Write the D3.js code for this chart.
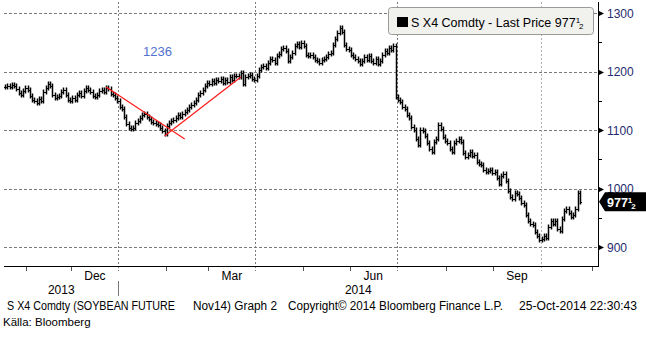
<!DOCTYPE html>
<html>
<head>
<meta charset="utf-8">
<script src="https://cdn.jsdelivr.net/npm/d3@7"></script>
<style>
  html, body { margin: 0; padding: 0; background: #fff; }
  svg { display: block; font-family: "Liberation Sans", Arial, sans-serif; }
</style>
</head>
<body>
<svg id="chart" width="646" height="338"></svg>
<script>
// Trading calendar for the soybean Nov14 contract (CBOT)
const firstDay = "2013-10-18";
const lastAxisDay = "2014-11-07";
const holidays = ["2013-11-28", "2013-12-25", "2014-01-01", "2014-01-20", "2014-02-17",
                  "2014-04-18", "2014-05-26", "2014-07-04", "2014-09-01"];

// Daily settlement prices, US cents per bushel, one per trading day from 18-Oct-2013
const closes = [
  1174, 1176, 1173, 1177, 1175, 1170, 1163, 1160, 1166, 1172,
  1168, 1158, 1152, 1150, 1147, 1153, 1149, 1165, 1172, 1178,
  1176, 1160, 1155, 1157, 1158, 1165, 1168, 1160, 1152, 1150,
  1155, 1152, 1160, 1163, 1158, 1166, 1172, 1168, 1165, 1158,
  1157, 1160, 1166, 1168, 1165, 1172, 1170, 1162, 1160, 1155,
  1150, 1140, 1136, 1122, 1110, 1104, 1101, 1103, 1112, 1116,
  1120, 1125, 1128, 1122, 1118, 1113, 1112, 1110, 1108, 1104,
  1098, 1093, 1106, 1112, 1115, 1117, 1120, 1125, 1122, 1128,
  1131, 1135, 1140, 1143, 1146, 1152, 1160, 1164, 1168, 1175,
  1180, 1178, 1184, 1180, 1186, 1183, 1188, 1181, 1185, 1182,
  1190, 1186, 1192, 1193, 1190, 1198, 1178, 1190, 1192, 1194,
  1188, 1185, 1193, 1203, 1208, 1210, 1206, 1215, 1222, 1220,
  1215, 1226, 1230, 1238, 1241, 1235, 1218, 1225, 1232, 1244,
  1247, 1242, 1248, 1244, 1228, 1226, 1228, 1224, 1220, 1218,
  1215, 1219, 1222, 1225, 1230, 1232, 1245, 1255, 1266, 1275,
  1268, 1245, 1238, 1236, 1228, 1225, 1222, 1218, 1212, 1218,
  1224, 1220, 1226, 1218, 1215, 1222, 1212, 1218, 1228, 1235,
  1232, 1240, 1236, 1244, 1157, 1152, 1148, 1140, 1136, 1125,
  1120, 1105, 1100, 1085, 1075, 1100, 1098, 1090, 1078, 1068,
  1062, 1080, 1085, 1108, 1102, 1088, 1082, 1078, 1068, 1062,
  1078, 1082, 1084, 1080, 1060, 1053, 1058, 1062, 1055, 1058,
  1045, 1042, 1040, 1032, 1028, 1030, 1032, 1026, 1028, 1018,
  1008, 1022, 1025, 1012, 995, 985, 982, 992, 990, 983,
  975, 972, 955, 945, 940, 938, 925, 918, 912, 914,
  918, 916, 935, 944, 940, 945, 930, 928, 948, 962,
  965, 958, 952, 955, 965, 992, 977.5
];

const lastPrice = 977.5;
const priceTicks = [900, 1000, 1100, 1200, 1300];
const minorPriceTicks = [950, 1050, 1150, 1250];
const monthLabels = [["2013-12", "Dec"], ["2014-03", "Mar"], ["2014-06", "Jun"], ["2014-09", "Sep"]];
const gridMonths = ["2014-01", "2014-04", "2014-07", "2014-10"];
const yearLabels = ["2013", "2014"];

// Hand-drawn trend lines [date, price]
const trendDown = [["2013-12-23", 1173.5], ["2014-02-13", 1084.6]];
const trendUp = [["2014-01-31", 1089.7], ["2014-03-21", 1190.6]];
const noteText = "1236";

const legendText = "S X4 Comdty - Last Price 977";
// footer pieces: [x, width, text]
const footerParts = [
  [7, 168, "S X4 Comdty (SOYBEAN FUTURE"],
  [193, 84, "Nov14) Graph 2"],
  [288, 215, "Copyright\u00a9 2014 Bloomberg Finance L.P."],
  [519, 118, "25-Oct-2014 22:30:43"]
];
const sourceText = "K\u00e4lla: Bloomberg";

(function draw() {
  // ---- build the trading-day list ----
  const holidaySet = new Set(holidays);
  const days = [];
  for (let d = new Date(firstDay + "T00:00:00Z"); d <= new Date(lastAxisDay + "T00:00:00Z"); d.setUTCDate(d.getUTCDate() + 1)) {
    const wd = d.getUTCDay();
    const s = d.toISOString().slice(0, 10);
    if (wd === 0 || wd === 6 || holidaySet.has(s)) continue;
    days.push(s);
  }
  const dayIndex = new Map(days.map((s, i) => [s, i]));
  const monthStart = m => days.findIndex(s => s.startsWith(m)) - 0.5;

  // ---- geometry ----
  const pL = 4, pR = 598, pT = 2, pB = 266;
  const x = d3.scaleLinear().domain([-0.5, 264.1]).range([pL, pR]);
  const y = d3.scaleLinear().domain([900, 1300]).range([247, 13]);

  const svg = d3.select("#chart");

  // horizontal gridlines
  svg.append("g").selectAll("line").data(priceTicks).join("line")
    .attr("x1", pL).attr("x2", pR)
    .attr("y1", d => Math.round(y(d)) + 0.5).attr("y2", d => Math.round(y(d)) + 0.5)
    .attr("stroke", "#7a7a7a").attr("stroke-dasharray", "3,2");

  // vertical gridlines at quarter starts
  svg.append("g").selectAll("line").data(gridMonths).join("line")
    .attr("x1", d => Math.round(x(monthStart(d))) + 0.5)
    .attr("x2", d => Math.round(x(monthStart(d))) + 0.5)
    .attr("y1", pT).attr("y2", pB + 5)
    .attr("stroke", (d, i) => i === gridMonths.length - 1 ? "#b0b0b0" : "#7a7a7a")
    .attr("stroke-dasharray", "2,2");

  // month boundary ticks on the time axis
  const monthKeys = d3.utcMonths(new Date("2013-11-01"), new Date("2014-11-02"))
    .map(d => d.toISOString().slice(0, 7));
  svg.append("g").selectAll("line").data(monthKeys.filter(m => !gridMonths.includes(m))).join("line")
    .attr("x1", d => Math.round(x(monthStart(d))) + 0.5)
    .attr("x2", d => Math.round(x(monthStart(d))) + 0.5)
    .attr("y1", pB).attr("y2", pB + 5)
    .attr("stroke", "#555");

  // time axis line
  svg.append("line").attr("x1", pL).attr("x2", pR + 1)
    .attr("y1", pB + 0.5).attr("y2", pB + 0.5).attr("stroke", "#000");

  // month labels, centred in their month
  svg.append("g").selectAll("text").data(monthLabels).join("text")
    .attr("x", d => {
      const a = monthStart(d[0]);
      const b = monthStart(monthKeys[monthKeys.indexOf(d[0]) + 1]);
      return x((a + b) / 2);
    })
    .attr("y", 280).attr("text-anchor", "middle").attr("font-size", 12).attr("fill", "#000")
    .text(d => d[1]);

  // year labels and separator
  const yearStart = x(monthStart("2014-01"));
  svg.append("text").attr("x", (pL + yearStart) / 2).attr("y", 294)
    .attr("text-anchor", "middle").attr("font-size", 12).text(yearLabels[0]);
  svg.append("text").attr("x", (yearStart + pR) / 2).attr("y", 294)
    .attr("text-anchor", "middle").attr("font-size", 12).text(yearLabels[1]);
  svg.append("line").attr("x1", Math.round(yearStart) + 0.5).attr("x2", Math.round(yearStart) + 0.5)
    .attr("y1", 281).attr("y2", 296).attr("stroke", "#777");

  // price bars: open at the previous settlement, close tick to the right
  const bars = svg.append("g").attr("stroke", "#000").attr("fill", "none");
  closes.forEach((c, i) => {
    const o = i > 0 ? closes[i - 1] : c;
    const xi = Math.round(x(i)) + 0.5;
    const y0 = Math.round(y(o)), y1 = Math.round(y(c));
    const lo = Math.min(y0, y1), hi = Math.max(y0, y1);
    bars.append("path")
      .attr("d", `M${xi},${lo - 2.5}V${hi + 2.5}`)
      .attr("stroke-width", 1.5);
    bars.append("path")
      .attr("d", `M${xi - 1.5},${y0 + 0.5}H${xi}M${xi},${y1 + 0.5}H${xi + 1.5}`)
      .attr("stroke-width", 1).attr("shape-rendering", "crispEdges");
  });

  // trend lines
  const trendLine = d3.line().x(d => x(dayIndex.get(d[0]))).y(d => y(d[1]));
  [trendDown, trendUp].forEach(t => {
    svg.append("path").attr("d", trendLine(t)).attr("stroke", "#ff1a1a")
      .attr("stroke-width", 1.2).attr("fill", "none");
  });

  // annotation
  svg.append("text").attr("x", 143).attr("y", 56).attr("font-size", 13)
    .attr("fill", "#5272cf").text(noteText);

  // right price axis
  svg.append("line").attr("x1", pR + 0.5).attr("x2", pR + 0.5)
    .attr("y1", pT).attr("y2", pB + 1).attr("stroke", "#000");
  svg.append("g").selectAll("path").data(priceTicks).join("path")
    .attr("d", d => { const yy = Math.round(y(d)) + 0.5; return `M${pR},${yy - 3}L${pR + 6},${yy}L${pR},${yy + 3}Z`; })
    .attr("fill", "#000");
  svg.append("g").selectAll("line").data(minorPriceTicks).join("line")
    .attr("x1", pR).attr("x2", pR + 4)
    .attr("y1", d => Math.round(y(d)) + 0.5).attr("y2", d => Math.round(y(d)) + 0.5)
    .attr("stroke", "#000");
  svg.append("g").selectAll("text").data(priceTicks).join("text")
    .attr("x", 607).attr("y", d => y(d) + 4.5).attr("font-size", 12).attr("fill", "#1e2a6e")
    .text(d => d);

  // last price tag
  const ly = y(lastPrice);
  svg.append("path")
    .attr("d", `M${pR + 1},${ly}L${pR + 7},${ly - 9.5}H646V${ly + 9.5}H${pR + 7}Z`)
    .attr("fill", "#000");
  const tag = svg.append("text").attr("x", 607).attr("y", ly + 5).attr("font-size", 12.5)
    .attr("font-weight", "bold").attr("fill", "#fff");
  tag.append("tspan").text(String(Math.floor(lastPrice)));
  tag.append("tspan").attr("font-size", 8).attr("dy", -4).text("1");
  tag.append("tspan").attr("font-size", 8).attr("dy", 6).attr("dx", -1).text("2");

  // legend box
  svg.append("rect").attr("x", 388.5).attr("y", 7.5).attr("width", 205).attr("height", 27)
    .attr("rx", 3).attr("fill", "#f1f1ee").attr("stroke", "#9a9a9a");
  svg.append("rect").attr("x", 397).attr("y", 17).attr("width", 11).attr("height", 10).attr("fill", "#000");
  const lg = svg.append("text").attr("x", 411).attr("y", 27).attr("font-size", 12.5).attr("fill", "#000");
  lg.append("tspan").text(legendText);
  lg.append("tspan").attr("font-size", 8).attr("dy", -4).text("1");
  lg.append("tspan").attr("font-size", 8).attr("dy", 6).attr("dx", -1).text("2");

  // footer
  svg.append("g").selectAll("text").data(footerParts).join("text")
    .attr("x", d => d[0]).attr("y", 310).attr("font-size", 12).attr("fill", "#000")
    .attr("textLength", d => d[1]).attr("lengthAdjust", "spacingAndGlyphs")
    .text(d => d[2]);
  svg.append("text").attr("x", 3).attr("y", 326).attr("font-size", 11.5).attr("fill", "#000").text(sourceText);
})();
</script>
</body>
</html>
